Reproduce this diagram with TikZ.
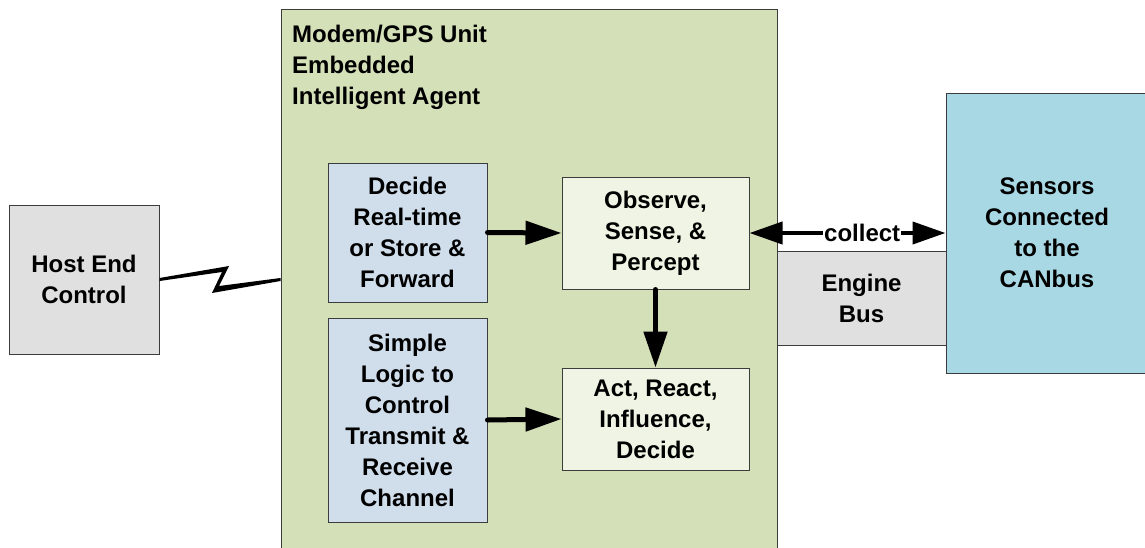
\documentclass[tikz,border=0pt]{standalone}
\usepackage{fontspec}
\setmainfont{Liberation Sans}
\usetikzlibrary{arrows.meta}
\definecolor{hostgray}{HTML}{E0E0E0}
\definecolor{unitgreen}{HTML}{D4E0B8}
\definecolor{boxblue}{HTML}{D0DEEC}
\definecolor{boxpale}{HTML}{F0F4E4}
\definecolor{sensblue}{HTML}{A8D8E4}
\definecolor{edge}{HTML}{3C3C3C}
\tikzset{
  blk/.style={draw=edge, line width=1pt, align=center, inner sep=0pt,
    font=\bfseries\fontsize{24}{31}\selectfont},
  arr/.style={line width=5pt, line cap=round, -{Triangle[length=36pt,width=23pt]}},
  arrtwo/.style={line width=4pt, {Triangle[length=33pt,width=22pt]}-{Triangle[length=33pt,width=22pt]}},
}
\begin{document}
\begin{tikzpicture}[x=1pt,y=-1pt]
\clip (0,0) rectangle (1145,547);
\fill[white] (0,0) rectangle (1145,547);
% big unit box
\node[blk, fill=unitgreen, minimum width=496pt, minimum height=560pt] (unit) at (529,289) {};
\node[anchor=north west, inner sep=0pt, align=left, font=\bfseries\fontsize{24}{31}\selectfont] (title) at (292,25) {Modem/GPS Unit\\Embedded\\Intelligent Agent};
% host
\node[blk, fill=hostgray, minimum width=150pt, minimum height=149pt] (host) at (84,279.5) {Host End\\Control};
% inner boxes
\node[blk, fill=boxblue, minimum width=159pt, minimum height=139pt] (decide) at (407.5,232.5) {Decide\\Real-time\\or Store \&\\Forward};
\node[blk, fill=boxblue, minimum width=159pt, minimum height=204pt] (simple) at (407.5,420) {Simple\\Logic to\\Control\\Transmit \&\\Receive\\Channel};
\node[blk, fill=boxpale, minimum width=187pt, minimum height=112pt] (observe) at (655.5,233) {Observe,\\Sense, \&\\Percept};
\node[blk, fill=boxpale, minimum width=187pt, minimum height=102pt] (act) at (655.5,419) {Act, React,\\Influence,\\Decide};
% engine bus and sensors
\node[blk, fill=hostgray, minimum width=169pt, minimum height=94pt] (engine) at (861.5,298) {Engine\\Bus};
\node[blk, fill=sensblue, minimum width=202pt, minimum height=280pt] (sensors) at (1047,233) {Sensors\\Connected\\to the\\CANbus};
% arrows
\draw[arr] (decide.east) -- (observe.west);
\draw[arr] (observe.south) -- (act.north);
\draw[arr] (simple.east) -- (act.west);
\draw[arrtwo] (observe.east) -- (sensors.west)
  node[pos=0.575, fill=white, inner sep=1pt, font=\bfseries\fontsize{24}{31}\selectfont] (collect) {collect};
% lightning link
\fill[black] (host.east |- 0,278) -- (229,266) -- (219,286) -- (unit.west |- 0,278)
  -- (unit.west |- 0,281) -- (212,293) -- (222,272) -- (host.east |- 0,281) -- cycle;
\end{tikzpicture}
\end{document}
